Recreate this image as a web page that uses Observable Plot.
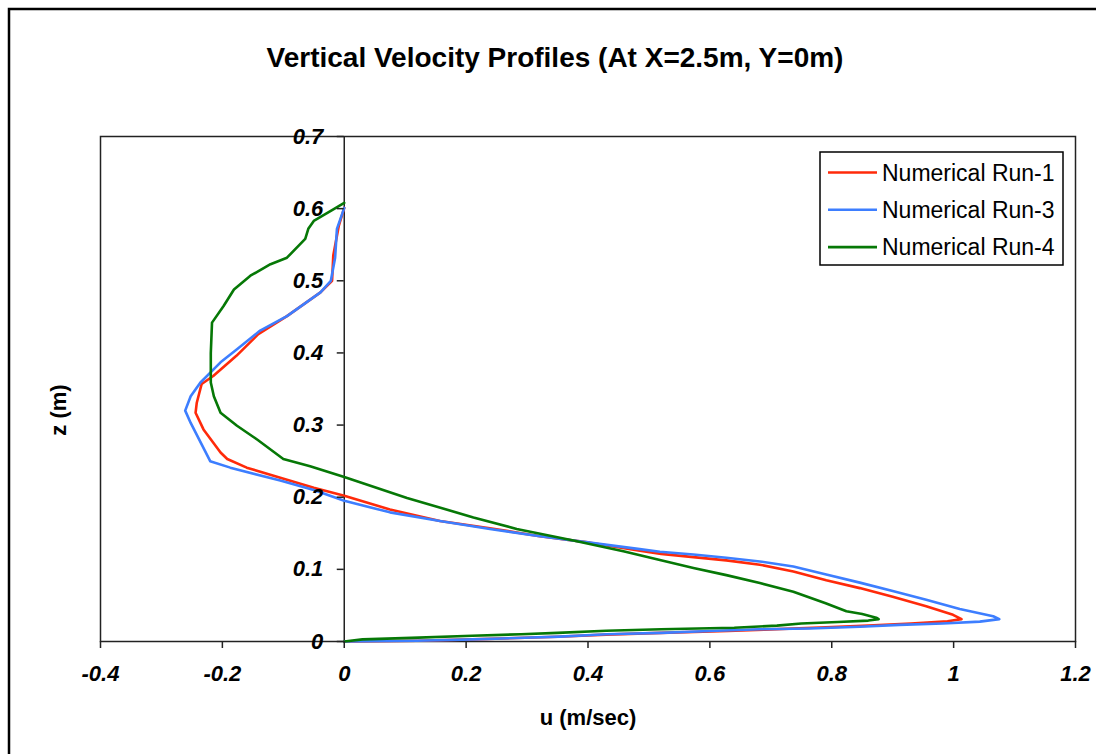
<!DOCTYPE html>
<html>
<head>
<meta charset="utf-8">
<script src="https://cdn.jsdelivr.net/npm/d3@7"></script>
<script src="https://cdn.jsdelivr.net/npm/@observablehq/plot@0.6"></script>
<style>
  html, body { margin: 0; padding: 0; background: #fff; }
  #chart { position: relative; width: 1096px; height: 754px; overflow: hidden; }
  svg { font-family: "Liberation Sans", Arial, sans-serif; }
  svg g[aria-label="x-axis tick label"], svg g[aria-label="y-axis tick label"] {
    font-size: 22px; font-weight: bold; font-style: italic;
  }
</style>
</head>
<body>
<div id="chart"></div>
<script>
// ---- data ----
const seriesNames = ["Numerical Run-1", "Numerical Run-3", "Numerical Run-4"];
const seriesColors = ["#ff2a0a", "#3d7eff", "#067806"];

const run1U = [0, 0.12, 0.21, 0.35, 0.43, 0.52, 0.63, 0.69, 0.78, 0.86, 0.93, 0.99, 1.013,
  0.999, 0.955, 0.90, 0.846, 0.791, 0.737, 0.682, 0.627, 0.573, 0.52, 0.485, 0.403, 0.321, 0.239, 0.157, 0.075, 0,
  -0.05, -0.105, -0.16, -0.192, -0.203, -0.231, -0.244, -0.242, -0.234, -0.215, -0.177, -0.141, -0.094, -0.039, -0.020, -0.018, -0.009, 0];
const run1Z = [0, 0.001, 0.003, 0.0065, 0.0095, 0.012, 0.0145, 0.0165, 0.0195, 0.022, 0.025, 0.028, 0.031,
  0.037, 0.049, 0.062, 0.074, 0.085, 0.097, 0.1065, 0.1125, 0.117, 0.1215, 0.126, 0.137, 0.146, 0.157, 0.167, 0.183, 0.202,
  0.213, 0.227, 0.241, 0.253, 0.262, 0.294, 0.317, 0.331, 0.357, 0.368, 0.396, 0.426, 0.451, 0.484, 0.500, 0.535, 0.576, 0.601];

const run3U = [0, 0.119, 0.212, 0.354, 0.431, 0.52, 0.60, 0.682, 0.764, 0.846, 0.911, 0.982, 1.043, 1.075,
  1.065, 1.010, 0.955, 0.90, 0.846, 0.791, 0.737, 0.682, 0.627, 0.573, 0.518, 0.485, 0.403, 0.321, 0.239, 0.157, 0.075, 0,
  -0.05, -0.105, -0.187, -0.220, -0.252, -0.261, -0.252, -0.236, -0.203, -0.176, -0.138, -0.094, -0.039, -0.022, -0.015, -0.012, 0];
const run3Z = [0, 0.001, 0.003, 0.0067, 0.010, 0.012, 0.0145, 0.017, 0.018, 0.0205, 0.023, 0.025, 0.0275, 0.031,
  0.035, 0.045, 0.058, 0.070, 0.0816, 0.093, 0.104, 0.111, 0.116, 0.1205, 0.1245, 0.128, 0.137, 0.146, 0.156, 0.167, 0.179, 0.195,
  0.210, 0.223, 0.241, 0.250, 0.303, 0.320, 0.340, 0.359, 0.387, 0.405, 0.431, 0.451, 0.484, 0.500, 0.532, 0.572, 0.601];

const run4U = [0, 0.03, 0.11, 0.21, 0.29, 0.35, 0.43, 0.52, 0.64, 0.71, 0.75, 0.81, 0.86, 0.877,
  0.873, 0.85, 0.824, 0.79, 0.737, 0.682, 0.627, 0.573, 0.518, 0.458, 0.376, 0.283, 0.212, 0.103, 0,
  -0.056, -0.10, -0.143, -0.176, -0.203, -0.214, -0.219, -0.219, -0.217, -0.198, -0.181, -0.154, -0.121, -0.094, -0.064, -0.059, -0.050, -0.02, 0];
const run4Z = [0, 0.003, 0.005, 0.008, 0.010, 0.012, 0.015, 0.017, 0.019, 0.022, 0.025, 0.027, 0.029, 0.031,
  0.033, 0.038, 0.042, 0.053, 0.069, 0.081, 0.092, 0.102, 0.113, 0.125, 0.140, 0.156, 0.172, 0.199, 0.228,
  0.243, 0.253, 0.280, 0.299, 0.317, 0.340, 0.359, 0.40, 0.442, 0.465, 0.488, 0.507, 0.523, 0.532, 0.558, 0.572, 0.583, 0.598, 0.608];

const xTicks = [-0.4, -0.2, 0, 0.2, 0.4, 0.6, 0.8, 1, 1.2];
const xTickLabels = ["-0.4", "-0.2", "0", "0.2", "0.4", "0.6", "0.8", "1", "1.2"];
const yTicks = [0, 0.1, 0.2, 0.3, 0.4, 0.5, 0.6, 0.7];
const yTickLabels = ["0", "0.1", "0.2", "0.3", "0.4", "0.5", "0.6", "0.7"];

const titleText = "Vertical Velocity Profiles (At X=2.5m, Y=0m)";
const xLabel = "u (m/sec)";
const yLabel = "z (m)";

// ---- build table ----
const allU = [run1U, run3U, run4U];
const allZ = [run1Z, run3Z, run4Z];
const rows = [];
allU.forEach((us, s) => us.forEach((u, i) => rows.push({series: seriesNames[s], u, z: allZ[s][i]})));

// ---- layout ----
const W = 1096, H = 754;
const mL = 100, mR = 21, mT = 136, mB = 113;
const xDomain = [-0.4, 1.2], yDomain = [0, 0.7];
const xs = d3.scaleLinear(xDomain, [mL, W - mR]);
const yAxisShift = xs(0) - xs(xDomain[0]);

const fontFam = '"Liberation Sans", Arial, sans-serif';

const svg = Plot.plot({
  width: W, height: H,
  marginLeft: mL, marginRight: mR, marginTop: mT, marginBottom: mB,
  style: {fontFamily: fontFam, background: "white", overflow: "visible"},
  x: {domain: xDomain},
  y: {domain: yDomain},
  color: {domain: seriesNames, range: seriesColors},
  marks: [
    Plot.frame({stroke: "#222", strokeWidth: 1.5}),
    Plot.ruleX([0], {stroke: "#222", strokeWidth: 1.5}),
    Plot.line(rows, {x: "u", y: "z", z: "series", stroke: "series", strokeWidth: 2.6, curve: "linear"}),
    Plot.axisX(xTicks, {anchor: "bottom", tickSize: 7, tickPadding: 17, label: null,
      tickFormat: (d) => xTickLabels[xTicks.indexOf(d)],
      fontSize: 22, fontWeight: "bold", fontStyle: "italic", fill: "black", stroke: "#222", strokeWidth: 1.5}),
    Plot.axisY(yTicks, {anchor: "left", dx: yAxisShift, tickSize: 7, tickPadding: 14, label: null,
      tickFormat: d => yTickLabels[yTicks.indexOf(d)],
      fontSize: 22, fontWeight: "bold", fontStyle: "italic", fill: "black", stroke: "#222", strokeWidth: 1.5})
  ]
});

const sel = d3.select(svg);
// outer chart border
sel.insert("rect", ":first-child")
  .attr("x", 9).attr("y", 9).attr("width", 1200).attr("height", 900)
  .attr("fill", "white").attr("stroke", "black").attr("stroke-width", 2.5);

sel.append("text").attr("x", 555).attr("y", 67)
  .attr("text-anchor", "middle").attr("font-family", fontFam)
  .attr("font-size", 28).attr("font-weight", "bold").attr("fill", "black")
  .text(titleText);

sel.append("text").attr("x", 588).attr("y", 725)
  .attr("text-anchor", "middle").attr("font-family", fontFam)
  .attr("font-size", 22).attr("font-weight", "bold").attr("fill", "black")
  .text(xLabel);

sel.append("text").attr("transform", "translate(66,410) rotate(-90)")
  .attr("text-anchor", "middle").attr("font-family", fontFam)
  .attr("font-size", 22).attr("font-weight", "bold").attr("fill", "black")
  .text(yLabel);

// legend
const lg = sel.append("g");
lg.append("rect").attr("x", 820).attr("y", 152).attr("width", 243).attr("height", 113)
  .attr("fill", "white").attr("stroke", "black").attr("stroke-width", 1.5);
seriesNames.forEach((name, i) => {
  const cy = 172.5 + i * 37.3;
  lg.append("line").attr("x1", 828).attr("x2", 877).attr("y1", cy).attr("y2", cy)
    .attr("stroke", seriesColors[i]).attr("stroke-width", 2.6);
  lg.append("text").attr("x", 882).attr("y", cy + 8)
    .attr("text-anchor", "start")
    .attr("font-family", fontFam).attr("font-size", 23).attr("fill", "black")
    .text(name);
});

document.getElementById("chart").appendChild(svg);
</script>
</body>
</html>
